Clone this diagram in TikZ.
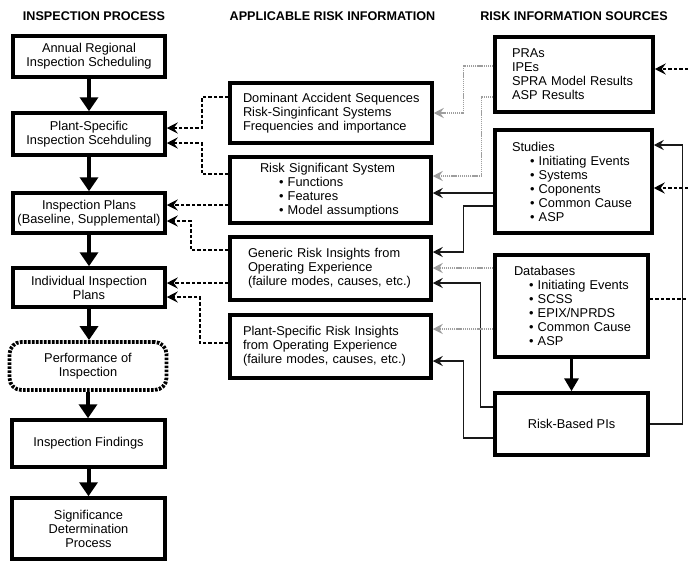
\documentclass[tikz,border=0pt]{standalone}
\usepackage{fontspec}
\setmainfont{Liberation Sans}
\usetikzlibrary{arrows.meta,calc}

\begin{document}
\begin{tikzpicture}[x=1pt,y=-1pt,
  font=\fontsize{12.8}{14}\selectfont,
  box/.style={draw=black,line width=3.5pt,fill=white,inner sep=0pt,align=center},
  lbox/.style={box,align=left,
    execute at begin node={\hyphenpenalty=10000\exhyphenpenalty=10000\hbadness=10000\hfuzz=40pt}},
  dotbox/.style={draw=black,line width=3.8pt,dash pattern=on 2.6pt off 1.4pt,
    rounded corners=12pt,fill=white,inner sep=0pt,align=center},
  heading/.style={font=\fontsize{12.6}{14}\selectfont\bfseries},
  flowarrow/.style={draw=black,line width=4pt,-{Triangle[length=14pt,width=18pt]}},
  smallflow/.style={draw=black,line width=3.5pt,-{Triangle[length=13pt,width=14pt]}},
  dashlink/.style={draw=black,line width=2.3pt,dash pattern=on 3.5pt off 2pt,
    -{Stealth[length=11pt,width=11pt,inset=4pt]}},
  dashline/.style={draw=black,line width=2.3pt,dash pattern=on 3.5pt off 2pt},
  graylink/.style={draw=black!38,line width=1.4pt,dash pattern=on 1.3pt off 0.8pt,
    -{Stealth[length=10pt,width=10pt,inset=3.5pt]}},
  darklink/.style={draw=black!90,line width=1.4pt,
    -{Stealth[length=10pt,width=10pt,inset=3.5pt]}}]

\useasboundingbox (0,0) rectangle (688,560);
\fill[white] (0,0) rectangle (688,560);

% column headings
\node[heading] (h1) at (94,16) {INSPECTION PROCESS};
\node[heading] (h2) at (332.5,16) {APPLICABLE RISK INFORMATION};
\node[heading] (h3) at (574,16) {RISK INFORMATION SOURCES};

% inspection process
\node[box,minimum width=152pt,minimum height=41pt] (L1) at (89,56.5)
  {Annual Regional\\Inspection Scheduling};
\node[box,minimum width=152pt,minimum height=42pt] (L2) at (89,134)
  {Plant-Specific\\Inspection Scehduling};
\node[box,minimum width=152pt,minimum height=40pt] (L3) at (89,213)
  {Inspection Plans\\(Baseline, Supplemental)};
\node[box,minimum width=152pt,minimum height=39pt] (L4) at (89,287.5)
  {Individual Inspection\\Plans};
\node[dotbox,minimum width=157pt,minimum height=48pt] (L5) at (88,366)
  {Performance of\\Inspection};
\node[box,minimum width=153pt,minimum height=47pt] (L6) at (88.5,443.5)
  {Inspection Findings};
\node[box,minimum width=153pt,minimum height=61pt] (L7) at (88.5,528.5)
  {Significance\\Determination\\Process};

\draw[flowarrow] (L1.south) -- (L1.south |- L2.north);
\draw[flowarrow] (L2.south) -- (L2.south |- L3.north);
\draw[flowarrow] (L3.south) -- (L3.south |- L4.north);
\draw[flowarrow] (L4.south) -- (L4.south |- L5.north);
\draw[flowarrow] (L5.south) -- (L5.south |- L6.north);
\draw[flowarrow] (L6.south) -- (L6.south |- L7.north);

% applicable risk information
\node[lbox,minimum width=202pt,minimum height=60pt,text width=176pt] (A) at (331,113)
  {Dominant~Accident~Sequences\\Risk-Singinficant~Systems\\Frequencies~and~importance};
\node[lbox,minimum width=201pt,minimum height=66pt,text width=181pt] (B) at (330.5,190)
  {\hspace*{20pt}Risk~Significant~System\\\hspace*{39pt}•~Functions\\\hspace*{39pt}•~Features\\\hspace*{39pt}•~Model~assumptions};
\node[lbox,minimum width=201pt,minimum height=63pt,text width=165pt] (C) at (330.5,268.5)
  {Generic~Risk~Insights~from\\Operating~Experience\\(failure~modes,~causes,~etc.)};
\node[lbox,minimum width=201pt,minimum height=63pt,text width=175pt] (D) at (330.5,346.5)
  {Plant-Specific~Risk~Insights\\from~Operating~Experience\\(failure~modes,~causes,~etc.)};

% risk information sources
\node[lbox,minimum width=158pt,minimum height=75pt,text width=124pt] (P) at (574,74.5)
  {PRAs\\IPEs\\SPRA~Model~Results\\ASP~Results};
\node[lbox,minimum width=157pt,minimum height=103pt,text width=123pt] (S) at (573.5,181.5)
  {Studies\\\hspace*{18pt}•~Initiating~Events\\\hspace*{18pt}•~Systems\\\hspace*{18pt}•~Coponents\\\hspace*{18pt}•~Common~Cause\\\hspace*{18pt}•~ASP};
\node[lbox,minimum width=153pt,minimum height=102pt,text width=115pt] (DB) at (571.5,306)
  {Databases\\\hspace*{15pt}•~Initiating~Events\\\hspace*{15pt}•~SCSS\\\hspace*{15pt}•~EPIX/NPRDS\\\hspace*{15pt}•~Common~Cause\\\hspace*{15pt}•~ASP};
\node[box,minimum width=153pt,minimum height=62pt] (R) at (571.5,424)
  {Risk-Based PIs};

\draw[smallflow] (DB.south) -- (DB.south |- R.north);

% risk information feeding the inspection process
\draw[dashlink] ($(A.west)+(0,-16)$) -| ($(L2.east)+(35,-6)$) -- ($(L2.east)+(0,-6)$);
\draw[dashlink] ($(B.west)+(0,-16)$) -| ($(L2.east)+(35,9)$) -- ($(L2.east)+(0,9)$);
\draw[dashlink] ($(B.west)+(0,15)$) -- ($(L3.east)+(0,-8)$);
\draw[dashlink] ($(C.west)+(0,-18.5)$) -| ($(L3.east)+(24,8)$) -- ($(L3.east)+(0,8)$);
\draw[dashlink] ($(C.west)+(0,14.5)$) -- ($(L4.east)+(0,-4.5)$);
\draw[dashlink] ($(D.west)+(0,-3.5)$) -| ($(L4.east)+(33,9.5)$) -- ($(L4.east)+(0,9.5)$);

% sources feeding the risk information
\draw[graylink] ($(P.west)+(0,-8.5)$) -| ($(A.east)+(30,0)$) -- (A.east);
\draw[graylink] ($(P.west)+(0,22.5)$) -| ($(B.east)+(48.5,-14)$) -- ($(B.east)+(0,-14)$);
\draw[darklink] ($(S.west)+(0,11.5)$) -- ($(B.east)+(0,3)$);
\draw[darklink] ($(S.west)+(0,24.5)$) -| ($(C.east)+(31,-16.5)$) -- ($(C.east)+(0,-16.5)$);
\draw[graylink] ($(DB.west)+(0,-38)$) -- ($(C.east)+(0,-0.5)$);
\draw[darklink] ($(R.west)+(0,-17)$) -| ($(C.east)+(48,14.5)$) -- ($(C.east)+(0,14.5)$);
\draw[graylink] ($(DB.west)+(0,23)$) -- ($(D.east)+(0,-17.5)$);
\draw[darklink] ($(R.west)+(0,14)$) -| ($(D.east)+(31,14.5)$) -- ($(D.east)+(0,14.5)$);

% links along the right edge
\coordinate (eP) at (688,69);
\coordinate (eS) at (688,188);
\coordinate (eD) at (688,299);
\draw[dashlink] (eP) -- (eP -| P.east);
\draw[dashlink] (eS) -- (eS -| S.east);
\draw[dashline] ($(DB.east)+(0,-7)$) -- (eD);
\draw[darklink] (R.east) -| ($(S.east)+(29,-36.5)$) -- ($(S.east)+(0,-36.5)$);

\end{tikzpicture}
\end{document}
